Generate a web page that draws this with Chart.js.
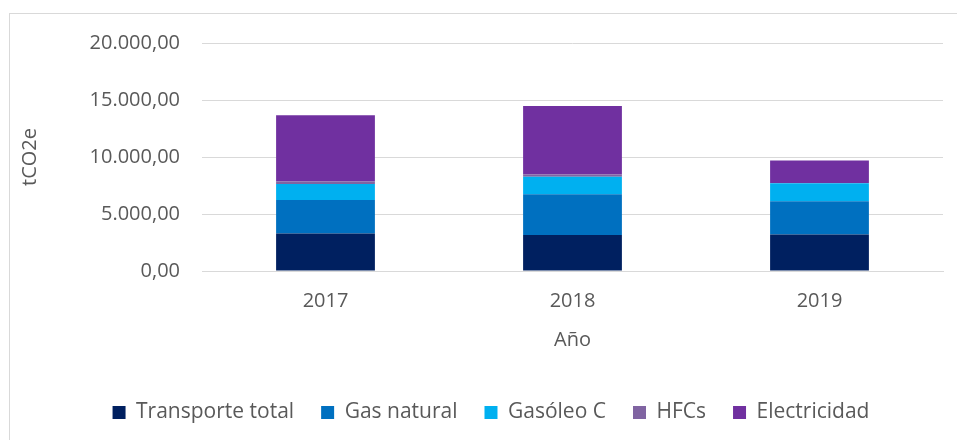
<!DOCTYPE html>
<html>
<head>
<meta charset="utf-8">
<script src="https://cdn.jsdelivr.net/npm/chart.js@4"></script>
<style>
  html, body { margin: 0; padding: 0; background: #fff; }
  #wrap { width: 957px; height: 440px; }
</style>
</head>
<body>
<div id="wrap"><canvas id="Chart" width="957" height="440"></canvas></div>
<script>
const years = ['2017', '2018', '2019'];
const transporte = [3290, 3150, 3200];
const gasNatural = [2940, 3580, 2910];
const gasoleoC = [1410, 1530, 1590];
const hfcs = [200, 200, 20];
const electricidad = [5820, 6020, 1970];
const yTicks = [0, 5000, 10000, 15000, 20000];

function fmt(v) {
  // 20.000,00 style
  const parts = Math.round(v).toString().replace(/\B(?=(\d{3})+(?!\d))/g, '.');
  return parts + ',00';
}

const frame = {
  id: 'frame',
  beforeDraw(chart) {
    const c = chart.ctx;
    c.save();
    c.strokeStyle = '#d9d9d9';
    c.lineWidth = 1;
    c.strokeRect(9.5, 13.5, 1000, 500);
    c.restore();
  },
  afterLayout(chart) {
    // legend sits a bit right of the canvas centre
    chart.legend.left += 15;
    chart.legend.right += 15;
  }
};

const ctx = document.getElementById('Chart');
const font = { family: '"Open Sans", sans-serif', size: 20 };

new Chart(ctx, {
  type: 'bar',
  data: {
    labels: years,
    datasets: [
      { label: 'Transporte total', data: transporte, backgroundColor: '#002060' },
      { label: 'Gas natural', data: gasNatural, backgroundColor: '#0070C0' },
      { label: 'Gasóleo C', data: gasoleoC, backgroundColor: '#00B0F0' },
      { label: 'HFCs', data: hfcs, backgroundColor: '#8064A2' },
      { label: 'Electricidad', data: electricidad, backgroundColor: '#7030A0' }
    ]
  },
  options: {
    responsive: false,
    animation: false,
    layout: { padding: { top: 43, right: 14, bottom: 7, left: 9 } },
    datasets: { bar: { barPercentage: 0.4, categoryPercentage: 1, borderWidth: 0 } },
    plugins: {
      tooltip: { enabled: false },
      legend: {
        position: 'bottom',
        labels: { color: '#595959', font: { family: font.family, size: 21 }, boxWidth: 13, boxHeight: 13, padding: 27 }
      }
    },
    scales: {
      x: {
        stacked: true,
        grid: { display: false, drawTicks: false },
        border: { color: '#d9d9d9' },
        ticks: { color: '#595959', font: font, padding: 18 },
        title: { display: true, text: 'Año', color: '#595959', font: font, padding: { top: 0, bottom: 23 } },
        afterFit(scale) { scale.height = 104; }
      },
      y: {
        stacked: true,
        min: 0,
        max: 20000,
        grid: { color: '#d9d9d9', drawTicks: false },
        border: { display: false },
        afterBuildTicks(scale) { scale.ticks = yTicks.map(v => ({ value: v })); },
        ticks: { color: '#595959', font: font, padding: 22, callback: v => fmt(v) },
        title: { display: true, text: 'tCO2e', color: '#595959', font: font, padding: { top: 9, bottom: 0 } },
        afterFit(scale) { scale.width = 193; }
      }
    }
  },
  plugins: [frame]
});
</script>
</body>
</html>
